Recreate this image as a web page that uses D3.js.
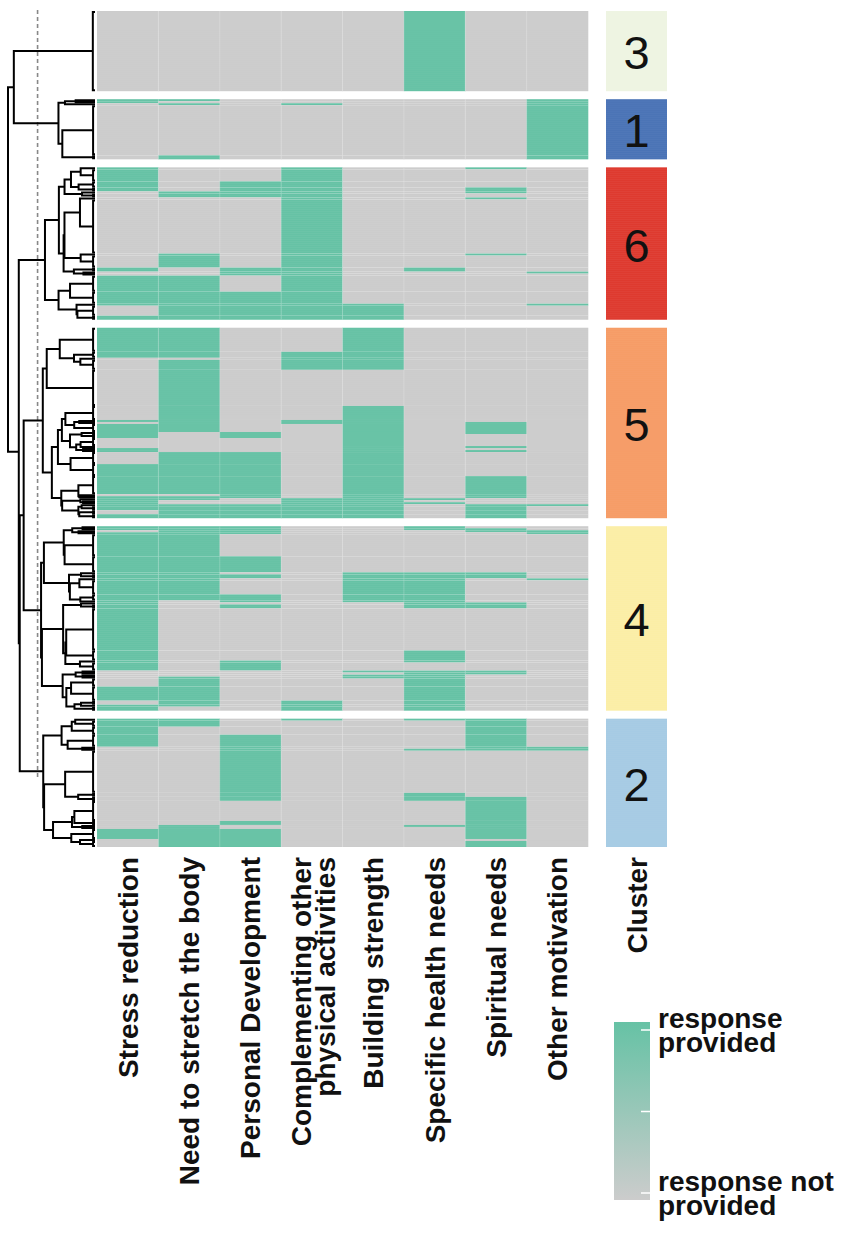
<!DOCTYPE html>
<html>
<head>
<meta charset="utf-8">
<script src="https://cdn.jsdelivr.net/npm/d3@7"></script>
<style>
  body { margin: 0; background: #fff; }
  text { font-family: "Liberation Sans", Arial, Helvetica, sans-serif; }
</style>
</head>
<body>
<svg id="chart" width="851" height="1233"></svg>
<script>
// motivations (columns)
const features = ["Stress reduction", "Need to stretch the body", "Personal Development",
  "Complementing other\nphysical activities", "Building strength", "Specific health needs",
  "Spiritual needs", "Other motivation"];

// clusters in the order they are stacked
const clusterIds = ["3", "1", "6", "5", "4", "2"];
const clusterColors = ["#eef4e2", "#4a73b6", "#de3a2f", "#f69c66", "#fbeea6", "#a6cbe4"];
// height of each cluster's own top merge (share of root height)
const clusterHeights = [0.025, 0.42, 0.575, 0.60, 0.61, 0.585];

// runs of respondents: [count, one flag per motivation]
const rows3 = [[40, "00000100"]];
const rows1 = [[1, "11000001"], [1, "10000001"], [1, "01010001"], [25, "00000001"], [2, "01000001"]];
const rows6 = [[1, "10010010"], [6, "10010000"], [3, "10110000"], [2, "10110010"], [1, "01110010"],
  [2, "01110000"], [1, "00010010"], [27, "00010000"], [1, "01010010"], [6, "01010000"],
  [2, "10110100"], [1, "00110001"], [1, "00110000"], [8, "11010000"], [6, "11110000"],
  [1, "11111001"], [5, "01111000"], [2, "11111000"]];
const rows5 = [[12, "11001000"], [3, "11011000"], [1, "00011000"], [5, "01011000"], [18, "01000000"],
  [7, "01001000"], [1, "11011000"], [1, "01011010"], [4, "11001010"], [1, "10101010"],
  [2, "10101000"], [4, "00001000"], [1, "00001010"], [1, "10001000"], [1, "10001010"],
  [6, "01101000"], [6, "11101000"], [9, "11101010"], [1, "00101010"], [1, "11101010"],
  [1, "11011100"], [1, "10011000"], [1, "10011100"], [1, "11111011"], [2, "11111010"],
  [2, "01111010"], [2, "11111010"]];
const rows4 = [[1, "11100100"], [1, "11100110"], [1, "01100011"], [1, "11100001"], [11, "11000000"],
  [8, "11100000"], [1, "11001110"], [2, "11101110"], [1, "11001101"], [7, "11001100"],
  [3, "11101100"], [1, "10101100"], [1, "10000110"], [2, "10100110"], [21, "10000000"],
  [5, "10000100"], [1, "10100100"], [4, "10100000"], [1, "00001110"], [1, "00000110"],
  [1, "00001100"], [1, "01001100"], [4, "01000100"], [7, "11000100"], [2, "01010100"],
  [1, "11010100"], [2, "10010100"]];
const rows2 = [[1, "11010110"], [3, "11000010"], [4, "10000010"], [6, "10100010"], [1, "00100011"],
  [1, "00100111"], [21, "00100000"], [2, "00100100"], [2, "00100110"], [10, "00000010"],
  [2, "00100010"], [1, "01000110"], [1, "01000010"], [5, "11100010"], [1, "01100000"],
  [3, "01100010"]];

// merges above the clusters: [left, right, height, name]
const topMerges = [["3", "1", 0.933, "A"], ["5", "4", 0.82, "D"], ["D", "2", 0.865, "C"],
  ["6", "C", 0.876, "B"], ["A", "B", 1, "root"]];
const cutHeight = 0.66;

const legendStops = [{ v: 1, label: "response\nprovided" }, { v: 0.5, label: "" }, { v: 0, label: "response not\nprovided" }];

const green = "#66c2a5", grey = "#cccccc";
const svg = d3.select("#chart");

const clusterRuns = [rows3, rows1, rows6, rows5, rows4, rows2];
const heatTop = 11, heatBottom = 847, gap = 8;
const totalRows = d3.sum(clusterRuns, runs => d3.sum(runs, d => d[0]));
const yRow = d3.scaleLinear().domain([0, totalRows])
  .range([0, heatBottom - heatTop - gap * (clusterRuns.length - 1)]);
const rowH = yRow(1);
const x = d3.scaleBand().domain(d3.range(features.length)).range([97, 588]);
const xDen = d3.scaleLinear().domain([0, 1]).range([95, 8]);
const barX = 606, barW = 61;

//----------------------------------------------------------- blocks
let cum = 0;
const clusters = clusterRuns.map((runs, ci) => {
  const n = d3.sum(runs, d => d[0]);
  const y0 = heatTop + ci * gap + yRow(cum);
  let r = 0;
  const blocks = runs.map(([k, pat]) => {
    const b = { n: k, pat, y: y0 + yRow(r), h: yRow(k) };
    r += k;
    return b;
  });
  cum += n;
  return { id: clusterIds[ci], color: clusterColors[ci], hTop: clusterHeights[ci], n, y0, y1: y0 + yRow(n), blocks };
});

const cells = [];
clusters.forEach(c => c.blocks.forEach(b => features.forEach((f, j) => {
  cells.push({ x: x(j), y: b.y, h: b.h, on: b.pat[j] === "1" });
})));

svg.append("g").selectAll("rect").data(cells).join("rect")
  .attr("x", d => d.x).attr("y", d => d.y)
  .attr("width", x.bandwidth() + 0.3).attr("height", d => d.h)
  .attr("fill", d => d.on ? green : grey);

// cluster bar
svg.append("g").selectAll("rect").data(clusters).join("rect")
  .attr("x", barX).attr("y", d => d.y0).attr("width", barW).attr("height", d => d.y1 - d.y0)
  .attr("fill", d => d.color);

// faint row / column lines
const stripes = [];
clusters.forEach(c => d3.range(1, c.n).forEach(k => stripes.push(c.y0 + yRow(k))));
const sg = svg.append("g").attr("stroke", "#fff").attr("stroke-width", 0.5).attr("stroke-opacity", 0.09);
sg.selectAll(".hs").data(stripes).join("line").attr("class", "hs")
  .attr("x1", 97).attr("x2", 588).attr("y1", d => d).attr("y2", d => d);
sg.selectAll(".bs").data(stripes).join("line").attr("class", "bs")
  .attr("x1", barX).attr("x2", barX + barW).attr("y1", d => d).attr("y2", d => d);
svg.append("g").selectAll("line").data(clusters.flatMap(c => d3.range(1, features.length).map(j => ({ c, j }))))
  .join("line").attr("stroke", "#fff").attr("stroke-opacity", 0.3).attr("stroke-width", 0.7)
  .attr("x1", d => x(d.j)).attr("x2", d => x(d.j)).attr("y1", d => d.c.y0).attr("y2", d => d.c.y1);

svg.append("g").selectAll("text").data(clusters).join("text")
  .attr("x", barX + barW / 2).attr("y", d => (d.y0 + d.y1) / 2 + 18)
  .attr("text-anchor", "middle").attr("font-size", 47).attr("fill", "#111").text(d => d.id);

//----------------------------------------------------------- dendrogram
const paths = [];
const segH = 0.022;
function elbow(a, b, h) {
  return `M${xDen(a.h)},${a.y}H${xDen(h)}V${b.y}H${xDen(b.h)}`;
}
const roots = {};
clusters.forEach(c => {
  let nodes = c.blocks.map(b => ({
    n: b.n, v: b.pat.split("").map(Number), y: b.y + b.h / 2,
    top: b.y + rowH / 2, bot: b.y + b.h - rowH / 2, h: b.n > 1 ? segH : 0, raw: 0, leaf: true
  }));
  const merges = [];
  // adjacent-only ward merging keeps the row order
  while (nodes.length > 1) {
    let best = 0, bestD = Infinity;
    for (let i = 0; i < nodes.length - 1; i++) {
      const a = nodes[i], b = nodes[i + 1];
      const d = Math.sqrt(2 * a.n * b.n / (a.n + b.n)) * Math.sqrt(d3.sum(a.v, (v, k) => (v - b.v[k]) ** 2));
      if (d < bestD) { bestD = d; best = i; }
    }
    const a = nodes[best], b = nodes[best + 1];
    const m = {
      n: a.n + b.n, v: a.v.map((v, k) => (v * a.n + b.v[k] * b.n) / (a.n + b.n)),
      y: (a.y + b.y) / 2, raw: Math.max(bestD, a.raw, b.raw), kids: [a, b]
    };
    merges.push(m);
    nodes.splice(best, 2, m);
  }
  const root = nodes[0];
  const leaves = [];
  (function walk(nd) { if (nd.leaf) leaves.push(nd); else nd.kids.forEach(walk); })(root);
  if (root.leaf) root.h = c.hTop;
  merges.forEach(m => {
    m.h = Math.max(c.hTop * Math.pow(m.raw / root.raw, 0.8), d3.max(m.kids, k => k.h) + 0.01);
  });
  leaves.filter(l => l.n > 1).forEach(l => paths.push(`M95,${l.top}H${xDen(l.h)}V${l.bot}H95`));
  merges.forEach(m => paths.push(elbow(m.kids[0], m.kids[1], m.h)));
  roots[c.id] = root;
});
topMerges.forEach(([a, b, h, name]) => {
  const A = roots[a], B = roots[b];
  paths.push(elbow(A, B, h));
  roots[name] = { y: (A.y + B.y) / 2, h };
});

svg.append("line").attr("x1", xDen(cutHeight)).attr("x2", xDen(cutHeight))
  .attr("y1", 10).attr("y2", 780).attr("stroke", "#888").attr("stroke-width", 1.6)
  .attr("stroke-dasharray", "4,3");

svg.append("g").selectAll("path").data(paths).join("path")
  .attr("d", d => d).attr("fill", "none").attr("stroke", "#000").attr("stroke-width", 2);

//----------------------------------------------------------- labels
const labelY = 857;
function rotLabel(g, lines) {
  const t = g.append("text").attr("text-anchor", "end").attr("font-size", 28)
    .attr("font-weight", "bold").attr("fill", "#111");
  const off = lines.length === 1 ? [10] : [-1, 23];
  lines.forEach((l, i) => t.append("tspan").attr("x", 0).attr("y", off[i]).text(l));
}
features.forEach((f, j) => {
  const g = svg.append("g").attr("transform", `translate(${x(j) + x.bandwidth() / 2},${labelY}) rotate(-90)`);
  rotLabel(g, f.split("\n"));
});
rotLabel(svg.append("g").attr("transform", `translate(${barX + barW / 2},${labelY}) rotate(-90)`), ["Cluster"]);

//----------------------------------------------------------- legend
const defs = svg.append("defs");
const grad = defs.append("linearGradient").attr("id", "lg").attr("x1", 0).attr("x2", 0).attr("y1", 0).attr("y2", 1);
grad.append("stop").attr("offset", "0%").attr("stop-color", green);
grad.append("stop").attr("offset", "100%").attr("stop-color", grey);
const ly = d3.scaleLinear().domain([0, 1]).range([1193, 1030]);
svg.append("rect").attr("x", 614).attr("y", 1022).attr("width", 36).attr("height", 178).attr("fill", "url(#lg)");
svg.append("g").selectAll("line").data(legendStops).join("line")
  .attr("x1", 641).attr("x2", 650).attr("y1", d => ly(d.v)).attr("y2", d => ly(d.v))
  .attr("stroke", "#fff").attr("stroke-width", 1.5);
legendStops.filter(d => d.label).forEach(d => {
  const t = svg.append("text").attr("font-size", 28).attr("font-weight", "bold").attr("fill", "#111");
  d.label.split("\n").forEach((l, i) => t.append("tspan").attr("x", 658).attr("y", ly(d.v) - 2 + i * 24).text(l));
});
</script>
</body>
</html>
